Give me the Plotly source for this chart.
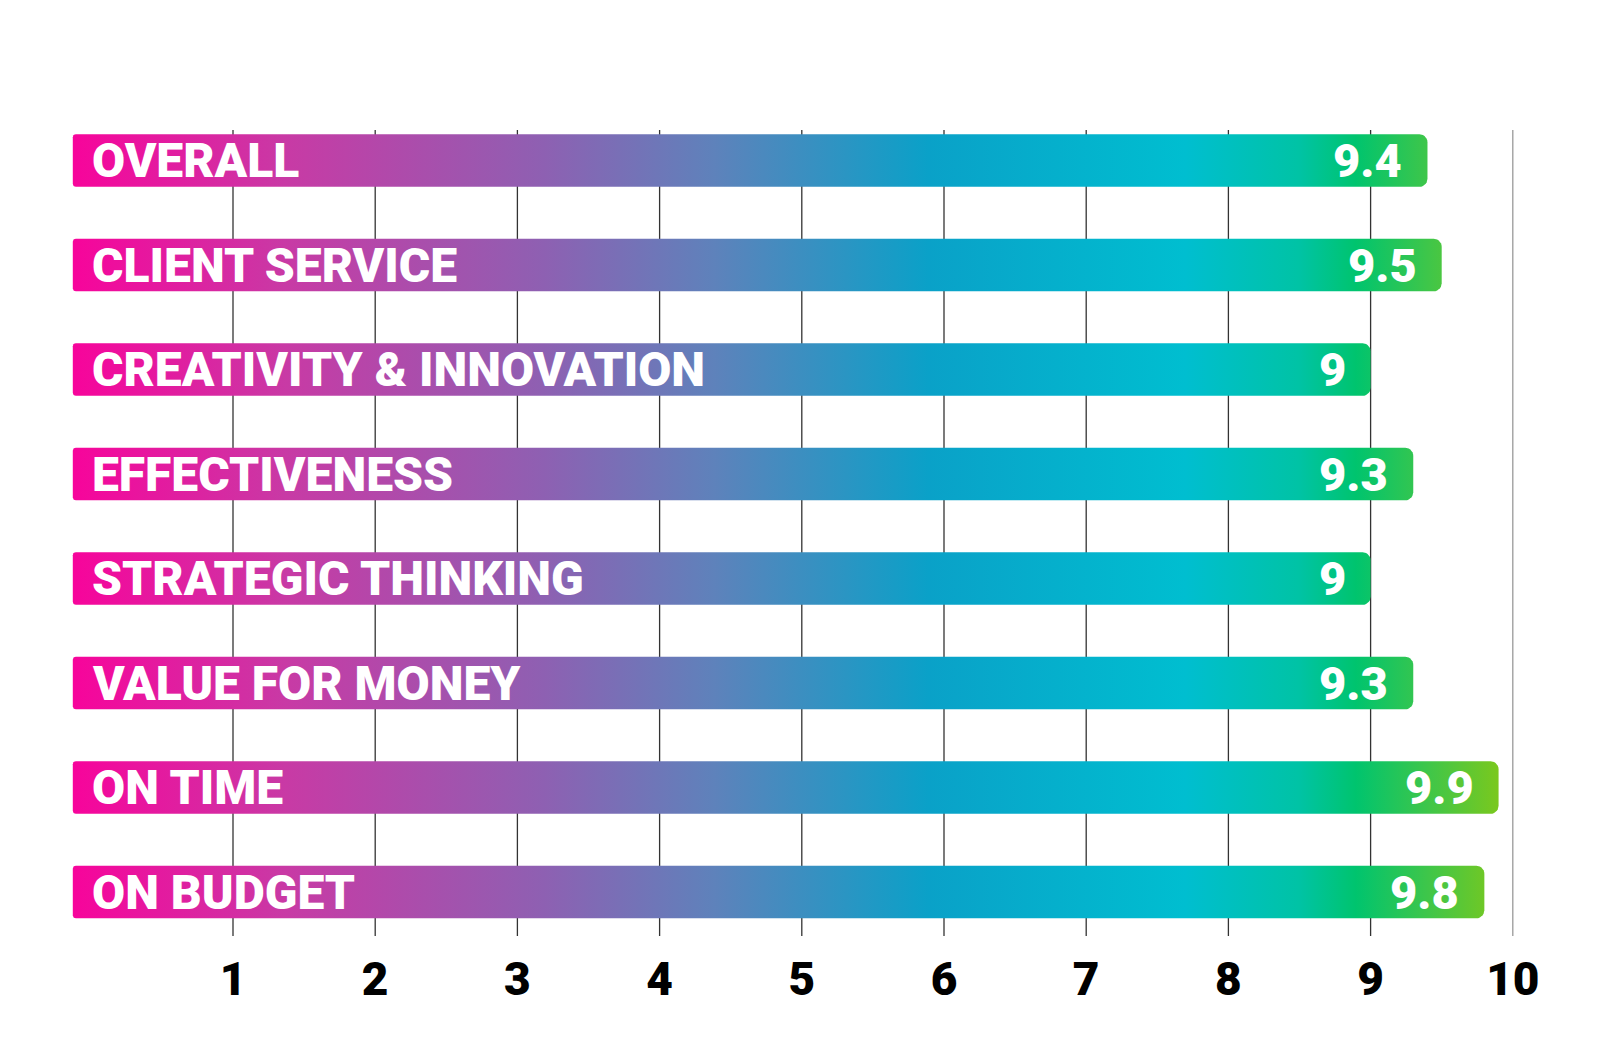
import plotly.graph_objects as go
import numpy as np

categories = ["OVERALL", "CLIENT SERVICE", "CREATIVITY & INNOVATION", "EFFECTIVENESS",
              "STRATEGIC THINKING", "VALUE FOR MONEY", "ON TIME", "ON BUDGET"]
scores = [9.4, 9.5, 9.0, 9.3, 9.0, 9.3, 9.9, 9.8]
score_labels = ["9.4", "9.5", "9", "9.3", "9", "9.3", "9.9", "9.8"]
tick_values = [1, 2, 3, 4, 5, 6, 7, 8, 9, 10]
tick_labels = ["1", "2", "3", "4", "5", "6", "7", "8", "9", "10"]

W, H = 1600, 1063
PX_PER_X = 142.2      # pixels per score unit
PX_PER_Y = 104.5      # pixels per category step
X0_PX = 82.8          # pixel of score 0
LEFT, RIGHT = 42, 1552
TOP, BOTTOM = 122, 928
Y0_PX = 152.5

x_range = [(LEFT - X0_PX) / PX_PER_X, (RIGHT - X0_PX) / PX_PER_X]
y_range = [(BOTTOM - Y0_PX) / PX_PER_Y, (TOP - Y0_PX) / PX_PER_Y]

bar_start = -18 / PX_PER_X
half_h = 0.252
r_right = 8
r_left = 3

gradient = [[0.0, "#f7049b"], [0.15, "#c83aa5"], [0.33, "#8e60b2"], [0.45, "#5e82bb"],
            [0.6, "#0aa1c8"], [0.78, "#00bed0"], [0.86, "#00c3a5"], [0.9, "#00c46e"],
            [0.95, "#3ec64a"], [1.0, "#7ac81e"]]


def rounded_bar(x0, x1, yc):
    rxr, ryr = r_right / PX_PER_X, r_right / PX_PER_Y
    rxl, ryl = r_left / PX_PER_X, r_left / PX_PER_Y
    yt, yb = yc - half_h, yc + half_h
    xs, ys = [], []
    t = np.linspace(0, np.pi / 2, 8)
    for a in t:
        xs.append(x1 - rxr + rxr * np.sin(a)); ys.append(yt + ryr - ryr * np.cos(a))
    for a in t:
        xs.append(x1 - rxr + rxr * np.cos(a)); ys.append(yb - ryr + ryr * np.sin(a))
    for a in t:
        xs.append(x0 + rxl - rxl * np.sin(a)); ys.append(yb - ryl + ryl * np.cos(a))
    for a in t:
        xs.append(x0 + rxl - rxl * np.cos(a)); ys.append(yt + ryl - ryl * np.sin(a))
    xs.append(xs[0]); ys.append(ys[0])
    return xs, ys


fig = go.Figure()
annotations = []
for i, (cat, val, lab) in enumerate(zip(categories, scores, score_labels)):
    xs, ys = rounded_bar(bar_start, val, i)
    fig.add_trace(go.Scatter(
        x=xs, y=ys, mode="lines", fill="toself",
        line=dict(width=0, color="rgba(0,0,0,0)"),
        fillgradient=dict(type="horizontal", colorscale=gradient,
                          start=bar_start, stop=max(scores)),
        hoverinfo="skip", showlegend=False))
    annotations.append(dict(x=0, y=i, xref="x", yref="y", text=cat, showarrow=False,
                            xanchor="left", yanchor="middle", borderpad=0,
                            font=dict(family="Roboto", size=48, color="white", weight=900)))
    annotations.append(dict(x=val - 24 / PX_PER_X, y=i, xref="x", yref="y", text=lab,
                            showarrow=False, xanchor="right", yanchor="middle", borderpad=0,
                            font=dict(family="Roboto", size=47, color="white", weight=900)))

shapes = []
for v in tick_values:
    shapes.append(dict(type="line", xref="x", yref="paper", x0=v, x1=v, y0=0, y1=1,
                       layer="below",
                       line=dict(color="#999999" if v == tick_values[-1] else "#333333", width=1.3)))

fig.update_layout(
    width=W, height=H,
    margin=dict(l=LEFT, r=W - RIGHT, t=TOP, b=H - BOTTOM),
    paper_bgcolor="white", plot_bgcolor="white",
    xaxis=dict(range=x_range, tickvals=tick_values, ticktext=tick_labels, showgrid=False,
               zeroline=False, showline=False, ticks="",
               tickfont=dict(family="Roboto", size=46, color="black", weight=900),
               ticklabelstandoff=12),
    yaxis=dict(range=y_range, showgrid=False, zeroline=False, showline=False,
               showticklabels=False, ticks=""),
    annotations=annotations, shapes=shapes,
)

fig.write_html("out.html")
